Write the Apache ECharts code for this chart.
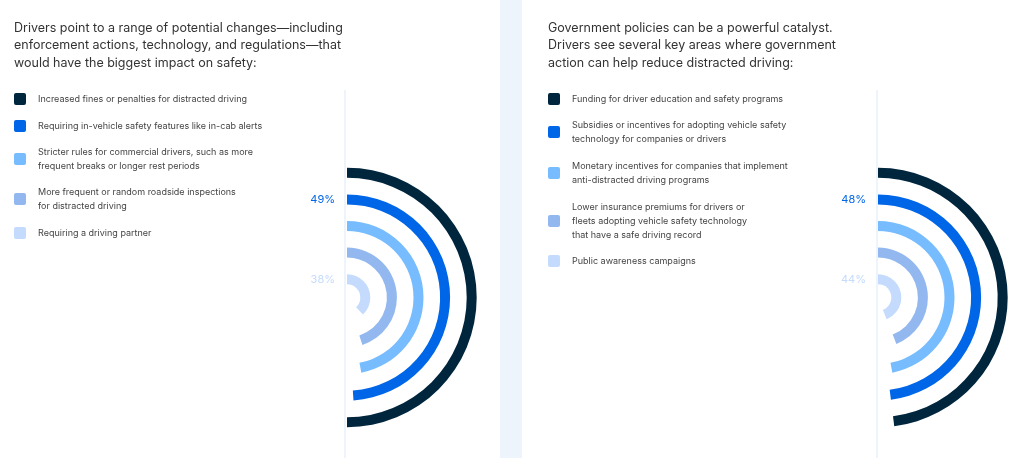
<!DOCTYPE html>
<html>
<head>
<meta charset="utf-8">
<script src="https://cdn.jsdelivr.net/npm/echarts@6/dist/echarts.min.js"></script>
<style>
html, body { margin: 0; padding: 0; background: #fff; }
#chart { width: 1024px; height: 458px; }
</style>
</head>
<body>
<div id="chart"></div>
<script>
// colours from outer ring to inner ring
var colors = ['#00263e', '#0066e8', '#76bcff', '#93b8f0', '#c4dbfd'];

var leftTitle = 'Drivers point to a range of potential changes\u2014including\nenforcement actions, technology, and regulations\u2014that\nwould have the biggest impact on safety:';
var leftItems = [
  'Increased fines or penalties for distracted driving',
  'Requiring in-vehicle safety features like in-cab alerts',
  'Stricter rules for commercial drivers, such as more\nfrequent breaks or longer rest periods',
  'More frequent or random roadside inspections\nfor distracted driving',
  'Requiring a driving partner'
];
var leftValues = [50, 49, 47, 45, 38];

var rightTitle = 'Government policies can be a powerful catalyst.\nDrivers see several key areas where government\naction can help reduce distracted driving:';
var rightItems = [
  'Funding for driver education and safety programs',
  'Subsidies or incentives for adopting vehicle safety\ntechnology for companies or drivers',
  'Monetary incentives for companies that implement\nanti-distracted driving programs',
  'Lower insurance premiums for drivers or\nfleets adopting vehicle safety technology\nthat have a safe driving record',
  'Public awareness campaigns'
];
var rightValues = [48, 48, 47, 44, 44];

var leftItemY = [99, 126, 159, 199, 233];
var rightItemY = [99, 132, 173, 221, 261];

function legendGraphics(x, title, items, ys) {
  var g = [{
    type: 'text', left: x, top: 19,
    style: { text: title, font: '12.5px Inter, sans-serif', fill: '#333', lineHeight: 17.5 }
  }];
  items.forEach(function (t, i) {
    var lines = t.split('\n').length;
    g.push({
      type: 'rect', left: x, top: ys[i] - 6,
      shape: { width: 12, height: 12, r: 2 },
      style: { fill: colors[i] }
    });
    g.push({
      type: 'text', left: x + 24, top: ys[i] - lines * 7,
      style: { text: t, font: '9px Inter, sans-serif', fill: '#444', lineHeight: 14 }
    });
  });
  return g;
}

function polarParts(idx, cx, values) {
  var inner = values.slice().reverse();
  var cols = colors.slice().reverse();
  return {
    polar: { center: [cx, 297.5], radius: [5, 138] },
    angleAxis: {
      polarIndex: idx, type: 'value', min: 0, max: 100, startAngle: 90, clockwise: true,
      show: false
    },
    radiusAxis: {
      polarIndex: idx, type: 'category', data: inner.map(function (v, i) { return i; }),
      axisLine: { show: false }, axisTick: { show: false }, splitLine: { show: false },
      axisLabel: {
        show: true, margin: 12, verticalAlign: 'middle', align: 'right',
        formatter: function (v, i) { return '{c' + i + '|' + inner[i] + '%}'; },
        rich: (function () {
          var r = {};
          cols.forEach(function (c, i) {
            r['c' + i] = { color: c, fontSize: 11, fontFamily: 'Inter, sans-serif' };
          });
          return r;
        })()
      }
    },
    series: {
      type: 'bar', coordinateSystem: 'polar', polarIndex: idx, barWidth: 10,
      data: inner.map(function (v, i) { return { value: v, itemStyle: { color: cols[i] } }; }),
      silent: true
    }
  };
}

var L = polarParts(0, 347, leftValues);
var R = polarParts(1, 878, rightValues);

var chart = echarts.init(document.getElementById('chart'));
chart.setOption({
  animation: false,
  backgroundColor: '#fff',
  polar: [L.polar, R.polar],
  angleAxis: [L.angleAxis, R.angleAxis],
  radiusAxis: [L.radiusAxis, R.radiusAxis],
  series: [L.series, R.series],
  graphic: [
    { type: 'rect', left: 500, top: 0, shape: { width: 22, height: 458 }, style: { fill: '#eef4fc' }, z: -10 },
    { type: 'rect', left: 344, top: 90, shape: { width: 2, height: 368 }, style: { fill: '#eef4fc' }, z: -10 },
    { type: 'rect', left: 876, top: 90, shape: { width: 2, height: 368 }, style: { fill: '#eef4fc' }, z: -10 }
  ].concat(legendGraphics(14, leftTitle, leftItems, leftItemY))
   .concat(legendGraphics(548, rightTitle, rightItems, rightItemY))
});
</script>
</body>
</html>
